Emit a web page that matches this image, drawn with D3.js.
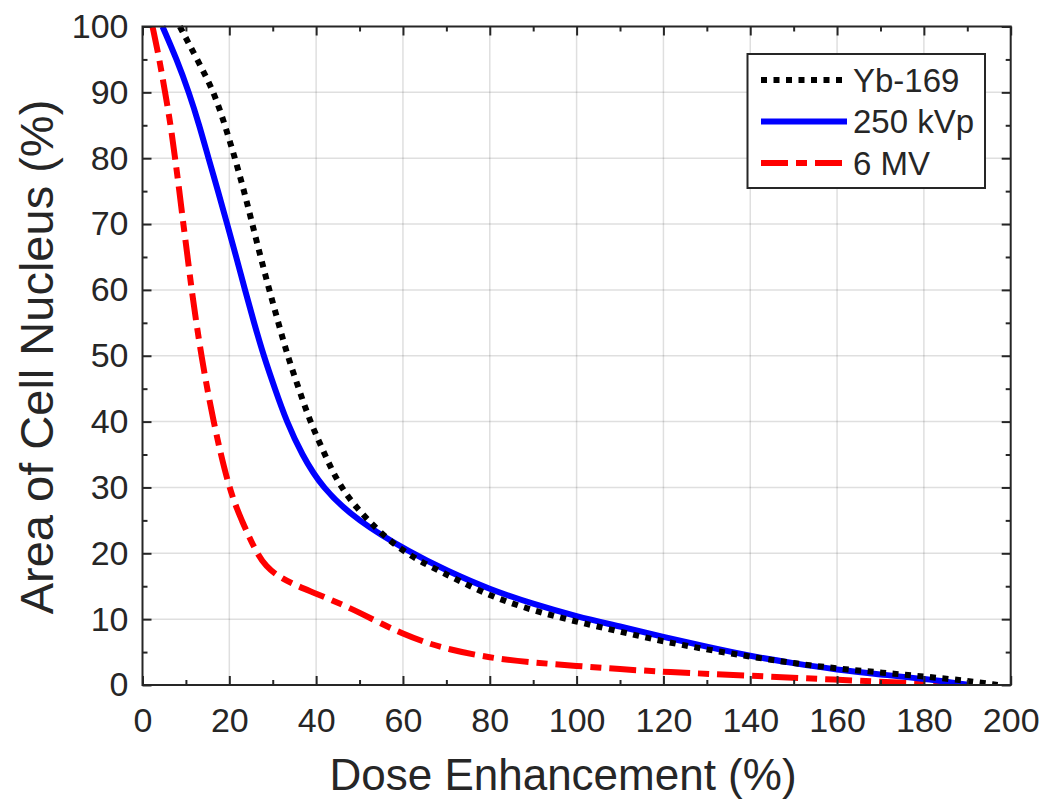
<!DOCTYPE html>
<html>
<head>
<meta charset="utf-8">
<script src="https://cdn.jsdelivr.net/npm/d3@7"></script>
<style>
  html, body { margin: 0; padding: 0; background: #fff; }
  svg { display: block; }
  text { font-family: "Liberation Sans", Arial, Helvetica, sans-serif; fill: #262626; }
</style>
</head>
<body>
<svg id="chart" width="1044" height="799"></svg>
<script>
// Dose enhancement (%) vs. fraction of cell-nucleus area (%)
const seriesNames = ["Yb-169", "250 kVp", "6 MV"];

const ybDose  = [8.6, 12.6, 16.5, 19, 21.3, 23.4, 25.3, 27.2, 29.2, 31.3, 33.4, 36, 38.6, 42, 45.5, 51.7, 60.1, 70, 80, 90, 100, 110, 120, 130, 140, 150, 160, 170, 180, 190, 197];
const ybArea  = [100, 95, 90, 85, 80, 75, 70, 65, 60, 55, 50, 45, 40, 35, 30, 25, 20, 16.8, 13.5, 11.3, 9.6, 8.1, 6.6, 5.4, 4.3, 3.3, 2.5, 1.9, 1.3, 0.65, 0];

const kvDose  = [4.6, 7.9, 10.7, 13.1, 15.2, 17.4, 19.5, 21.6, 23.6, 25.7, 27.9, 30.5, 33.2, 36.7, 41.3, 49.3, 62, 70, 80, 90, 100, 110, 120, 130, 140, 150, 160, 170, 180, 190.6];
const kvArea  = [100, 95, 90, 85, 80, 75, 70, 65, 60, 55, 50, 45, 40, 35, 30, 25, 20, 17.4, 14.5, 12.3, 10.4, 8.9, 7.3, 5.8, 4.4, 3.3, 2.3, 1.6, 0.95, 0];

const mvDose  = [2.3, 3.9, 5.2, 6.5, 7.5, 8.5, 9.4, 10.4, 11.3, 13.5, 16.3, 19.8, 22.8, 26.3, 28.5, 31, 35, 40, 46, 50, 55, 60, 65, 70, 80, 90, 100, 110, 120, 140, 160, 175, 184.5];
const mvArea  = [100, 95, 90, 85, 80, 75, 70, 65, 60, 50, 40, 30, 25, 20, 18, 16.6, 15.2, 13.9, 12.2, 11, 9.3, 7.8, 6.5, 5.5, 4.1, 3.4, 2.9, 2.4, 2.0, 1.4, 0.8, 0.35, 0];

const xTicks = [0, 20, 40, 60, 80, 100, 120, 140, 160, 180, 200];
const yTicks = [0, 10, 20, 30, 40, 50, 60, 70, 80, 90, 100];
const xMinorTicks = d3.range(10, 200, 20);
const yMinorTicks = d3.range(5, 100, 10);

const styles = [
  { color: "#000000", width: 6, dash: "6,6.5" },
  { color: "#0000ff", width: 6, dash: null },
  { color: "#ff0000", width: 6, dash: "27,8,11,8" }
];

const svg = d3.select("#chart");
const margin = { left: 142.5, right: 1044 - 1010.7, top: 26.5, bottom: 799 - 685 };
const W = 1044 - margin.left - margin.right;
const H = 799 - margin.top - margin.bottom;

const x = d3.scaleLinear().domain([0, 200]).range([0, W]);
const y = d3.scaleLinear().domain([0, 100]).range([H, 0]);

const g = svg.append("g").attr("transform", `translate(${margin.left},${margin.top})`);

// grid
g.append("g").selectAll("line").data(xTicks.slice(1, -1)).join("line")
  .attr("x1", d => x(d)).attr("x2", d => x(d)).attr("y1", 0).attr("y2", H)
  .attr("stroke", "#262626").attr("stroke-opacity", 0.15).attr("stroke-width", 1.5);
g.append("g").selectAll("line").data(yTicks.slice(1, -1)).join("line")
  .attr("y1", d => y(d)).attr("y2", d => y(d)).attr("x1", 0).attr("x2", W)
  .attr("stroke", "#262626").attr("stroke-opacity", 0.15).attr("stroke-width", 1.5);

// series (B-spline through the sampled points keeps the curves smooth)
const series = [
  ybDose.map((d, i) => [d, ybArea[i]]),
  kvDose.map((d, i) => [d, kvArea[i]]),
  mvDose.map((d, i) => [d, mvArea[i]])
];
const line = d3.line().x(d => x(d[0])).y(d => y(d[1])).curve(d3.curveBasis);
svg.append("defs").append("clipPath").attr("id", "plotclip")
  .append("rect").attr("x", -3).attr("y", -3).attr("width", W + 6).attr("height", H + 3);
const drawOrder = [2, 1, 0];
g.append("g").attr("clip-path", "url(#plotclip)")
  .selectAll("path").data(drawOrder).join("path")
  .attr("d", i => line(series[i]))
  .attr("fill", "none")
  .attr("stroke", i => styles[i].color)
  .attr("stroke-width", i => styles[i].width)
  .attr("stroke-dasharray", i => styles[i].dash)
  .attr("stroke-linejoin", "round");

// axes (ticks inward, box on all sides)
const axisColor = "#262626";
function styleAxis(sel) {
  sel.select(".domain").remove();
  sel.selectAll(".tick line").attr("stroke", axisColor).attr("stroke-width", 2);
  sel.selectAll(".tick text").attr("fill", axisColor).style("font-size", "34px")
    .style("font-family", '"Liberation Sans", Arial, sans-serif');
}
const xAxis = g.append("g").attr("transform", `translate(0,${H})`)
  .call(d3.axisBottom(x).tickValues(xTicks).tickSize(-9).tickPadding(23).tickFormat(d3.format("d")))
  .call(styleAxis);
xAxis.selectAll(".tick text").attr("dy", "0.71em");
g.append("g").attr("transform", `translate(0,${H})`)
  .call(d3.axisBottom(x).tickValues(xMinorTicks).tickSize(-5).tickFormat(""))
  .call(styleAxis);
g.append("g")
  .call(d3.axisTop(x).tickValues(xTicks).tickSize(-9).tickFormat(""))
  .call(styleAxis);
g.append("g")
  .call(d3.axisTop(x).tickValues(xMinorTicks).tickSize(-5).tickFormat(""))
  .call(styleAxis);

g.append("g")
  .call(d3.axisLeft(y).tickValues(yTicks).tickSize(-9).tickPadding(14).tickFormat(d3.format("d")))
  .call(styleAxis);
g.append("g")
  .call(d3.axisLeft(y).tickValues(yMinorTicks).tickSize(-5).tickFormat(""))
  .call(styleAxis);
g.append("g").attr("transform", `translate(${W},0)`)
  .call(d3.axisRight(y).tickValues(yTicks).tickSize(-9).tickFormat(""))
  .call(styleAxis);
g.append("g").attr("transform", `translate(${W},0)`)
  .call(d3.axisRight(y).tickValues(yMinorTicks).tickSize(-5).tickFormat(""))
  .call(styleAxis);

// plot box
g.append("rect").attr("x", 0).attr("y", 0).attr("width", W).attr("height", H)
  .attr("fill", "none").attr("stroke", axisColor).attr("stroke-width", 2);

// axis titles
svg.append("text").attr("x", 563).attr("y", 790).attr("text-anchor", "middle")
  .style("font-size", "44px").text("Dose Enhancement (%)");
svg.append("text").attr("transform", "translate(53,357) rotate(-90)").attr("text-anchor", "middle")
  .style("font-size", "47px").text("Area of Cell Nucleus (%)");

// legend
const legend = svg.append("g");
legend.append("rect").attr("x", 747.5).attr("y", 54).attr("width", 237.5).attr("height", 134)
  .attr("fill", "#fff").attr("stroke", axisColor).attr("stroke-width", 2);
const rowY = [80, 121.5, 163];
seriesNames.forEach((name, i) => {
  legend.append("line").attr("x1", 761).attr("x2", 847).attr("y1", rowY[i]).attr("y2", rowY[i])
    .attr("stroke", styles[i].color).attr("stroke-width", styles[i].width)
    .attr("stroke-dasharray", styles[i].dash);
  legend.append("text").attr("x", 853).attr("y", rowY[i]).attr("dy", "0.36em")
    .style("font-size", "33px").text(name);
});
</script>
</body>
</html>
